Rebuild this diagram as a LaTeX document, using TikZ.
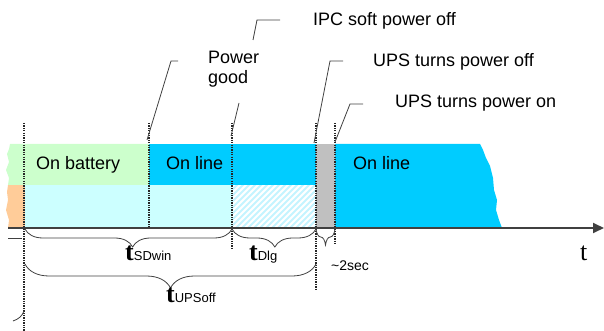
\documentclass[tikz,border=0pt]{standalone}
\usepackage{fontspec}
\setmainfont{Liberation Sans}
\newfontfamily\tserif{Liberation Serif}
\usetikzlibrary{arrows.meta,decorations.pathreplacing}
\definecolor{cgreen}{HTML}{CCFFCC}
\definecolor{ccyan}{HTML}{00CCFF}
\definecolor{clcyan}{HTML}{CCFFFF}
\definecolor{chatch}{HTML}{C4F4FF}
\definecolor{cpeach}{HTML}{FFCC99}
\definecolor{cgray}{HTML}{C0C0C0}
\definecolor{cline}{HTML}{404040}
\tikzset{
  lbl/.style={inner sep=0pt, anchor=base west, font=\fontsize{18}{21}\selectfont},
  smalllbl/.style={inner sep=0pt, anchor=base west, font=\fontsize{14}{16}\selectfont},
  tlbl/.style={inner sep=0pt, anchor=base west},
  vdot/.style={line width=1.3pt, dash pattern=on 1.3pt off 1.1pt, black!85},
  leader/.style={line width=0.8pt, cline},
  bracebr/.style={line width=0.8pt, cline, decorate,
     decoration={brace, mirror, amplitude=#1}},
}
\newcommand{\bigT}{{\tserif\bfseries\fontsize{26}{28}\selectfont t}}
\newcommand{\subT}[1]{{\fontsize{13}{15}\selectfont #1}}
\begin{document}
\begin{tikzpicture}[x=1pt,y=-1pt]
\useasboundingbox (0,0) rectangle (604,331);
% bands
\fill[cgreen] (10,144) -- (149,144) -- (149,185) -- (8,185) -- (9,178) -- (6,170) -- (9,162) -- (7,154) -- (9,149) -- cycle;
\fill[cpeach] (8,185) -- (25,185) -- (25,228) -- (8,228) -- (9,220) -- (6,210) -- (8,200) -- (7,192) -- cycle;
\fill[clcyan] (25,185) rectangle (232,228);
\begin{scope}
  \clip (232,185) rectangle (316,228);
  \foreach \k in {0,6,...,140} {
    \draw[chatch, line width=2pt] (232+\k-50,228) -- (232+\k,178);
  }
\end{scope}
\fill[ccyan] (149,144) rectangle (316,185);
\fill[cgray] (316,144) rectangle (335,228);
\fill[ccyan] (335,144) -- (480,144) -- (483,150) -- (486,158) -- (490,166) -- (493,178) -- (494,190) -- (497,200) -- (496,210) -- (499,220) -- (502,228) -- (335,228) -- cycle;
% labels
\node[lbl] (onbat) at (36,169) {On battery};
\node[lbl] (online1) at (166,169) {On line};
\node[lbl] (online2) at (353,169) {On line};
\node[lbl] (ipc) at (313,26) {IPC soft power off};
\node[lbl] (upsoff) at (373,67) {UPS turns power off};
\node[lbl] (upson) at (395,108) {UPS turns power on};
\node[lbl, align=left, anchor=north west] (pg) at (208,51) {Power\\[-1pt]good};
% coordinates of markers
\coordinate (a1) at (24,123); \coordinate (a2) at (24,331);
\coordinate (b1) at (149,123); \coordinate (b2) at (149,228);
\coordinate (c1) at (232,123); \coordinate (c2) at (232,248);
\coordinate (d1) at (316,123); \coordinate (d2) at (316,290);
\coordinate (e1) at (335,123); \coordinate (e2) at (335,245);
\draw[vdot] (a1) -- (a2);
\draw[vdot] (b1) -- (b2);
\draw[vdot] (c1) -- (c2);
\draw[vdot] (d1) -- (d2);
\draw[vdot] (e1) -- (e2);
% axis
\coordinate (ax0) at (8,228); \coordinate (ax1) at (604,228);
\draw[line width=1.8pt, cline, -{Triangle[length=11pt,width=10pt]}] (ax0) -- (ax1);
\node[tlbl, font=\tserif\fontsize{26}{28}\selectfont] (taxis) at (580,260) {t};
% leaders
\coordinate (l1a) at (147,140); \coordinate (l1b) at (171,61); \coordinate (l1c) at (178,61);
\draw[leader] (l1a) -- (l1b) -- (l1c);
\coordinate (l2a) at (231,136); \coordinate (l2b) at (239,103);
\draw[leader] (l2a) -- (l2b);
\coordinate (l3a) at (253,40); \coordinate (l3b) at (257,20); \coordinate (l3c) at (280,20);
\draw[leader] (l3a) -- (l3b) -- (l3c);
\coordinate (l4a) at (314,143); \coordinate (l4b) at (330,61); \coordinate (l4c) at (343,61);
\draw[leader] (l4a) -- (l4b) -- (l4c);
\coordinate (l5a) at (335,142); \coordinate (l5b) at (350,104); \coordinate (l5c) at (363,104);
\draw[leader] (l5a) -- (l5b) -- (l5c);
% braces
\coordinate (br1a) at (25,229); \coordinate (br1b) at (232,229);
\draw[bracebr=18pt, decoration={aspect=0.52}] (br1a) -- (br1b);
\coordinate (br2a) at (232,229); \coordinate (br2b) at (316,229);
\draw[bracebr=18pt, decoration={aspect=0.51}] (br2a) -- (br2b);
\coordinate (br3a) at (316,229); \coordinate (br3b) at (335,229);
\draw[bracebr=16pt] (br3a) -- (br3b);
\coordinate (br4a) at (25,264); \coordinate (br4b) at (316,264);
\draw[bracebr=24pt, decoration={aspect=0.5}] (br4a) -- (br4b);
\coordinate (s1) at (8,238); \coordinate (s2) at (22,238);
\draw[leader] (s1) -- (s2);
\coordinate (f1) at (13,321); \coordinate (f2) at (24,311);
\draw[leader] (f1) .. controls (19,319) and (22,316) .. (f2);
% time labels
\node[tlbl] (tsd) at (125,260) {\bigT\subT{SDwin}};
\node[tlbl] (tdlg) at (249,260) {\bigT\subT{Dlg}};
\node[tlbl] (tups) at (166,302) {\bigT\subT{UPSoff}};
\node[smalllbl] (two) at (331,270) {\char"007E 2sec};
\end{tikzpicture}
\end{document}
